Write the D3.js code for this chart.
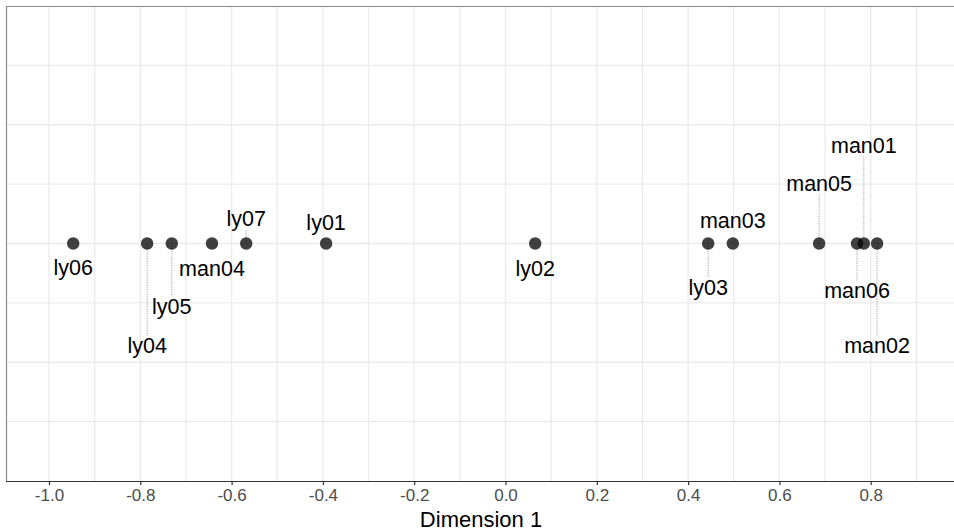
<!DOCTYPE html>
<html>
<head>
<meta charset="utf-8">
<script src="https://cdn.jsdelivr.net/npm/d3@7"></script>
<style>
  body { margin: 0; background: #fff; }
  svg { display: block; font-family: "Liberation Sans", Arial, Helvetica, sans-serif; }
</style>
</head>
<body>
<svg id="chart" width="954" height="532"></svg>
<script>
// ---- data ----
const labels = ["ly06","ly04","ly05","man04","ly07","ly01","ly02","ly03","man03","man05","man06","man01","man02"];
const dim1   = [-0.947,-0.785,-0.731,-0.643,-0.568,-0.393,0.065,0.444,0.498,0.687,0.770,0.785,0.814];
const dim2   = [0,0,0,0,0,0,0,0,0,0,0,0,0];
// repelled label positions (data units on the dummy y scale)
const labelY = [-0.041,-0.173,-0.107,-0.043,0.042,0.035,-0.043,-0.075,0.038,0.101,-0.080,0.165,-0.173];
const leaderLines = ["ly04","ly05","ly07","ly03","man05","man06","man01","man02"];
const xTicks = [-1.0,-0.8,-0.6,-0.4,-0.2,0.0,0.2,0.4,0.6,0.8];
const xGrid  = [-1.0,-0.9,-0.8,-0.7,-0.6,-0.5,-0.4,-0.3,-0.2,-0.1,0,0.1,0.2,0.3,0.4,0.5,0.6,0.7,0.8,0.9];
const yGrid  = [-0.3,-0.2,-0.1,0,0.1,0.2,0.3];
const xTitle = "Dimension 1";

// ---- layout ----
const svg = d3.select("#chart");
const panel = {left: 6, right: 960, top: 6, bottom: 481};
const x = d3.scaleLinear().domain([-1, 0.8]).range([49, 870.7]);
const y = d3.scaleLinear().domain([-0.4, 0.4]).range([panel.bottom, panel.top]);

const g = svg.append("g");

// grid
g.selectAll("line.vg").data(xGrid).join("line")
  .attr("x1", d => x(d)).attr("x2", d => x(d))
  .attr("y1", panel.top).attr("y2", panel.bottom)
  .attr("stroke", "#ebebeb").attr("stroke-width", 1.3);
g.selectAll("line.hg").data(yGrid).join("line")
  .attr("x1", panel.left).attr("x2", panel.right)
  .attr("y1", d => y(d)).attr("y2", d => y(d))
  .attr("stroke", "#ebebeb").attr("stroke-width", 1.3);

// panel borders (top, left)
g.append("line").attr("x1", panel.left).attr("x2", panel.right)
  .attr("y1", panel.top + 0.5).attr("y2", panel.top + 0.5)
  .attr("stroke", "#8c8c8c").attr("stroke-width", 1.2);
g.append("line").attr("x1", panel.left + 0.5).attr("x2", panel.left + 0.5)
  .attr("y1", panel.top).attr("y2", panel.bottom)
  .attr("stroke", "#8c8c8c").attr("stroke-width", 1.2);

// x axis
const fmt = d => d.toFixed(1);
const xAxis = d3.axisBottom(x).tickValues(xTicks).tickFormat(fmt).tickSize(4).tickPadding(4);
const ax = svg.append("g").attr("transform", `translate(0,${panel.bottom})`).call(xAxis);
ax.select(".domain").remove();
ax.append("line").attr("x1", panel.left).attr("x2", panel.right).attr("y1", 0.5).attr("y2", 0.5)
  .attr("stroke", "#333").attr("stroke-width", 1.2);
ax.selectAll(".tick line").attr("stroke", "#333").attr("stroke-width", 1.2);
ax.selectAll(".tick text").attr("fill", "#4d4d4d").attr("font-size", 17)
  .attr("font-family", "Liberation Sans, Arial, sans-serif");

svg.append("text").attr("x", (panel.left + 956) / 2).attr("y", 527)
  .attr("text-anchor", "middle").attr("font-size", 22).attr("fill", "#000").text(xTitle);

// data rows
const rows = labels.map((l, i) => ({label: l, x: dim1[i], y: dim2[i], ly: labelY[i]}));
const halfH = 10.5;

// leader segments
g.selectAll("line.seg").data(rows.filter(r => leaderLines.includes(r.label))).join("line")
  .attr("x1", d => x(d.x)).attr("x2", d => x(d.x))
  .attr("y1", d => y(d.y))
  .attr("y2", d => y(d.ly) + (d.ly < d.y ? -halfH : halfH))
  .attr("stroke", "#8a8a8a").attr("stroke-width", 0.8).attr("stroke-dasharray", "1.2,1.2");

// points
g.selectAll("circle").data(rows).join("circle")
  .attr("cx", d => x(d.x)).attr("cy", d => y(d.y)).attr("r", 6.2)
  .attr("fill", "#000").attr("fill-opacity", 0.75);

// labels
g.selectAll("text.lab").data(rows).join("text")
  .attr("x", d => x(d.x)).attr("y", d => y(d.ly))
  .attr("text-anchor", "middle").attr("dominant-baseline", "central")
  .attr("font-size", 21.5).attr("fill", "#000").text(d => d.label);
</script>
</body>
</html>
